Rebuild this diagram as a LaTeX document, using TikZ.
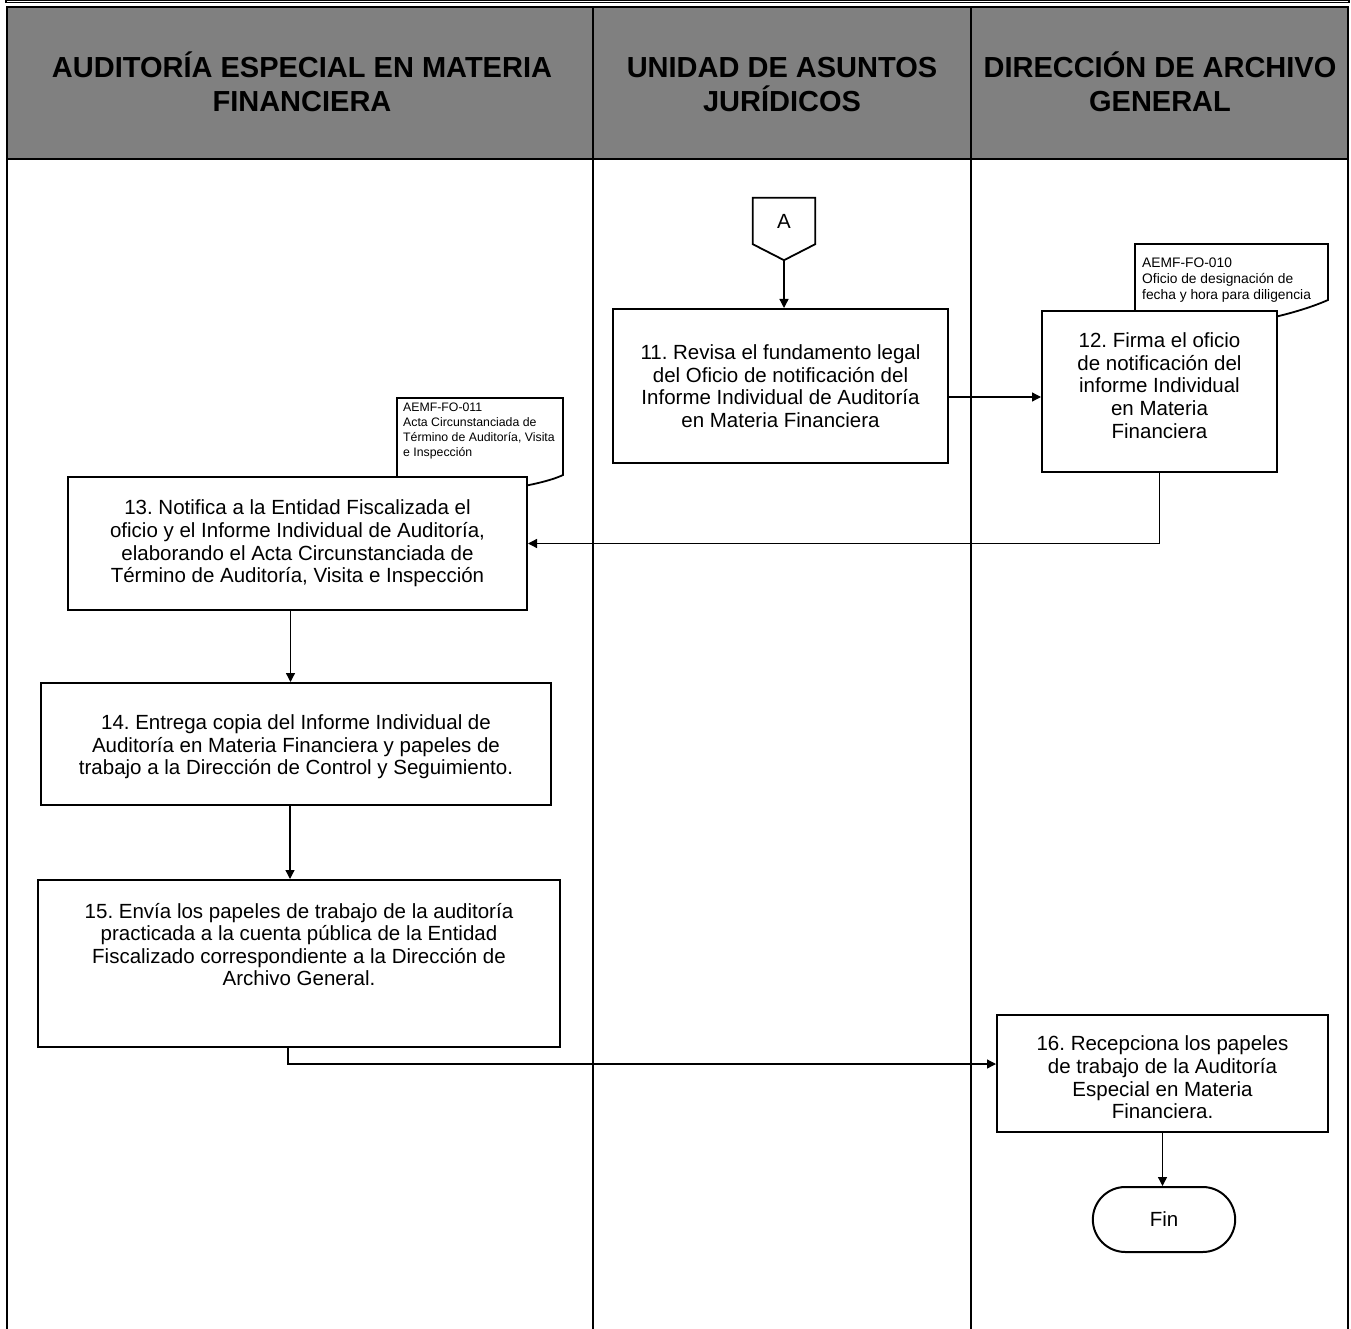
\documentclass[tikz,border=0pt]{standalone}
\usepackage{fontspec}
\setmainfont{Liberation Sans}
\usetikzlibrary{arrows.meta,shapes.misc}
\definecolor{headgray}{RGB}{128,128,128}
\frenchspacing

\begin{document}
\begin{tikzpicture}[x=1pt,y=-1pt,
  frame/.style={line width=2pt},
  lane/.style={line width=1.6pt},
  bodyfont/.style={font=\fontsize{20.5}{22.6}\selectfont},
  proc/.style={draw, line width=2pt, fill=white, align=center, inner sep=2pt, bodyfont},
  steptext/.style={align=center, bodyfont},
  note/.style={align=left, anchor=north west, inner sep=0pt, font=\fontsize{12.3}{14.8}\selectfont},
  bignote/.style={note, font=\fontsize{13.8}{15.6}\selectfont},
  doc/.style={draw, line width=1.8pt, fill=white},
  flow/.style={line width=1.3pt, -{Triangle[length=9pt,width=9pt]}},
  head/.style={align=center, font=\bfseries\fontsize{29}{34}\selectfont},
  term/.style={draw, rounded rectangle, line width=2pt, fill=white, bodyfont},
]
\useasboundingbox (0,0) rectangle (1351,1329);

% top rule and swimlane header
\draw[line width=1.1pt] (6,0.6) rectangle (1349,2.9);
\draw[frame, fill=headgray] (7,7) rectangle (1348,159);
\foreach \xx in {7,593,971,1348} \draw[lane] (\xx,7) -- (\xx,1330);

\node[head] (h1) at (302,82) {AUDITORÍA ESPECIAL EN MATERIA\\FINANCIERA};
\node[head] (h2) at (782,82) {\vphantom{Í}UNIDAD DE ASUNTOS\\JURÍDICOS};
\node[head] (h3) at (1160,82) {DIRECCIÓN DE ARCHIVO\\GENERAL};

% off-page connector
\node[minimum width=62pt, minimum height=46pt, inner sep=0pt, bodyfont] (A) at (784,221) {A};
\draw[line width=1.8pt] (A.north west) -- (A.north east) -- (A.south east)
  -- ([yshift=-16pt]A.south) -- (A.south west) -- cycle;
\coordinate (Atip) at ([yshift=-16pt]A.south);

% step 11
\node[proc, minimum width=335pt, minimum height=154pt] (b11) at (780.5,386)
  {11. Revisa el fundamento legal\\del Oficio de notificación del\\Informe Individual de Auditoría\\en Materia Financiera};

% document AEMF-FO-010 (wavy lower edge tucked under step 12)
\draw[doc] (1135,244) -- (1328,244) -- (1328,300)
  .. controls (1292,316) and (1210,336) .. (1135,326) -- cycle;
\node[bignote] (n10) at (1142,258) {AEMF-FO-010\\Oficio de designación de\\fecha y hora para diligencia};
\node[proc, minimum width=235pt, minimum height=161pt,
  label={[steptext, yshift=6pt]center:{12. Firma el oficio\\de notificación del\\informe Individual\\en Materia\\Financiera}}] (b12) at (1159.5,391.5) {};

% document AEMF-FO-011 (wavy lower edge tucked under step 13)
\draw[doc] (397,398) -- (563,398) -- (563,475)
  .. controls (540,486) and (470,498) .. (397,492) -- cycle;
\node[note] (n11) at (403,403) {AEMF-FO-011\\Acta Circunstanciada de\\Término de Auditoría, Visita\\e Inspección};
\node[proc, minimum width=459pt, minimum height=133pt] (b13) at (297.5,543.5)
  {13. Notifica a la Entidad Fiscalizada el\\oficio y el Informe Individual de Auditoría,\\elaborando el Acta Circunstanciada de\\Término de Auditoría, Visita e Inspección};

% steps 14 and 15
\node[proc, minimum width=510pt, minimum height=122pt,
  label={[steptext, yshift=-3pt]center:{14. Entrega copia del Informe Individual de\\Auditoría en Materia Financiera y papeles de\\trabajo a la Dirección de Control y Seguimiento.}}] (b14) at (296,744) {};
\node[proc, minimum width=522pt, minimum height=167pt,
  label={[steptext, yshift=19pt]center:{15. Envía los papeles de trabajo de la auditoría\\practicada a la cuenta pública de la Entidad\\Fiscalizado correspondiente a la Dirección de\\Archivo General.}}] (b15) at (299,963.5) {};

% step 16 and end
\node[proc, minimum width=331pt, minimum height=117pt,
  label={[steptext, yshift=-4pt]center:{16. Recepciona los papeles\\de trabajo de la Auditoría\\Especial en Materia\\Financiera.}}] (b16) at (1162.5,1073.5) {};
\node[term, minimum width=149pt, minimum height=65pt] (fin) at (1164,1219.5) {Fin};

% connectors
\draw[flow] (Atip) -- (Atip |- b11.north);
\draw[flow] ([yshift=-11pt]b11.east) -- ([yshift=-11pt]b11.east -| b12.west);
\draw[flow] (b12.south) |- (b13.east);
\draw[flow] ([xshift=-7pt]b13.south) -- ([xshift=-7pt]b13.south |- b14.north);
\draw[flow] ([xshift=-6pt]b14.south) -- ([xshift=-6pt]b14.south |- b15.north);
\draw[flow] ([xshift=-11pt]b15.south) |- ([yshift=9.5pt]b16.west);
\draw[flow] (b16.south) -- (b16.south |- fin.north);
\end{tikzpicture}
\end{document}
